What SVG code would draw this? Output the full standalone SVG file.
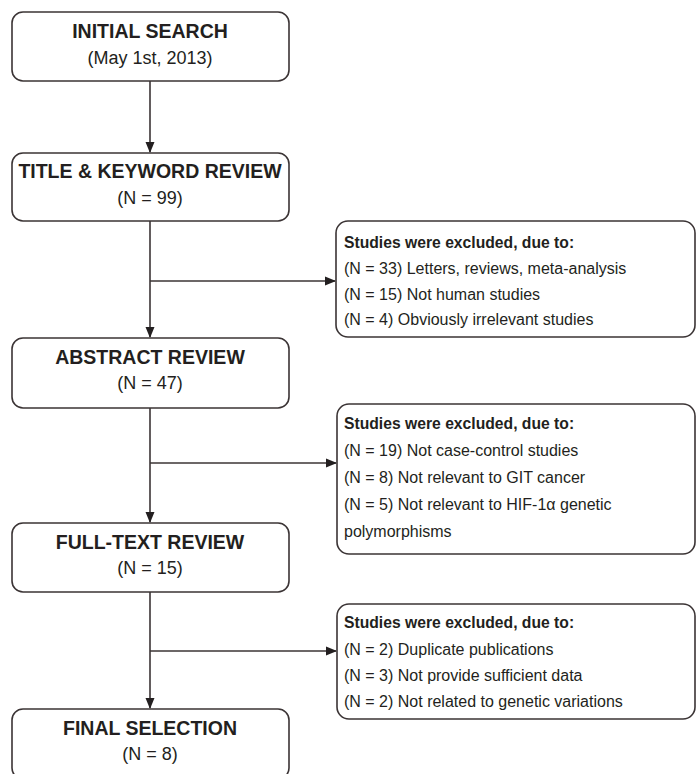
<svg xmlns="http://www.w3.org/2000/svg" width="696" height="774" viewBox="0 0 696 774">
<style>
.box{fill:#fff;stroke:#3b3435;stroke-width:1.6}
.t{font-family:"Liberation Sans",Arial,sans-serif;fill:#231f20}
.h{font-size:19.5px;font-weight:bold;text-anchor:middle}
.n{font-size:18px;text-anchor:middle}
.eh{font-size:15.7px;font-weight:bold}
.e{font-size:16px}
.c{stroke:#3b3435;stroke-width:1.6;fill:none}
</style>
<defs>
<marker id="ah" markerWidth="11" markerHeight="10" refX="10" refY="5" orient="auto" markerUnits="userSpaceOnUse">
<path d="M0,0.5 L11,5 L0,9.5 Z" fill="#231f20"/>
</marker>
</defs>
<rect width="696" height="774" fill="#fff"/>
<g id="connectors">
<line class="c" x1="150" y1="81" x2="150" y2="152" marker-end="url(#ah)"/>
<line class="c" x1="150" y1="221" x2="150" y2="337" marker-end="url(#ah)"/>
<line class="c" x1="150" y1="281" x2="335" y2="281" marker-end="url(#ah)"/>
<line class="c" x1="150" y1="408" x2="150" y2="522" marker-end="url(#ah)"/>
<line class="c" x1="150" y1="463" x2="336" y2="463" marker-end="url(#ah)"/>
<line class="c" x1="150" y1="592" x2="150" y2="708" marker-end="url(#ah)"/>
<line class="c" x1="150" y1="651" x2="336" y2="651" marker-end="url(#ah)"/>
</g>
<g id="initial">
<rect class="box" x="12" y="12" width="277" height="69" rx="11"/>
<text class="t h" x="150" y="38">INITIAL SEARCH</text>
<text class="t n" x="150" y="64">(May 1st, 2013)</text>
</g>
<g id="title-review">
<rect class="box" x="12" y="153" width="277" height="68" rx="11"/>
<text class="t h" x="150" y="178">TITLE &amp; KEYWORD REVIEW</text>
<text class="t n" x="150" y="204">(N = 99)</text>
</g>
<g id="abstract-review">
<rect class="box" x="12" y="338" width="277" height="70" rx="11"/>
<text class="t h" x="150" y="364">ABSTRACT REVIEW</text>
<text class="t n" x="150" y="389">(N = 47)</text>
</g>
<g id="fulltext-review">
<rect class="box" x="12" y="523" width="277" height="69" rx="11"/>
<text class="t h" x="150" y="549">FULL-TEXT REVIEW</text>
<text class="t n" x="150" y="574">(N = 15)</text>
</g>
<g id="final-selection">
<rect class="box" x="12" y="709" width="277" height="70" rx="11"/>
<text class="t h" x="150" y="735">FINAL SELECTION</text>
<text class="t n" x="150" y="760">(N = 8)</text>
</g>
<g id="excl-1">
<rect class="box" x="336" y="221" width="359" height="116" rx="12"/>
<text class="t eh" x="344" y="248">Studies were excluded, due to:</text>
<text class="t e" x="344" y="274">(N = 33) Letters, reviews, meta-analysis</text>
<text class="t e" x="344" y="300">(N = 15) Not human studies</text>
<text class="t e" x="344" y="325">(N = 4) Obviously irrelevant studies</text>
</g>
<g id="excl-2">
<rect class="box" x="337" y="404" width="358" height="150" rx="12"/>
<text class="t eh" x="344" y="429">Studies were excluded, due to:</text>
<text class="t e" x="344" y="456">(N = 19) Not case-control studies</text>
<text class="t e" x="344" y="483">(N = 8) Not relevant to GIT cancer</text>
<text class="t e" x="344" y="510">(N = 5) Not relevant to HIF-1α genetic</text>
<text class="t e" x="344" y="537">polymorphisms</text>
</g>
<g id="excl-3">
<rect class="box" x="337" y="604" width="358" height="115" rx="12"/>
<text class="t eh" x="344" y="628">Studies were excluded, due to:</text>
<text class="t e" x="344" y="655">(N = 2) Duplicate publications</text>
<text class="t e" x="344" y="681">(N = 3) Not provide sufficient data</text>
<text class="t e" x="344" y="707">(N = 2) Not related to genetic variations</text>
</g>
</svg>
